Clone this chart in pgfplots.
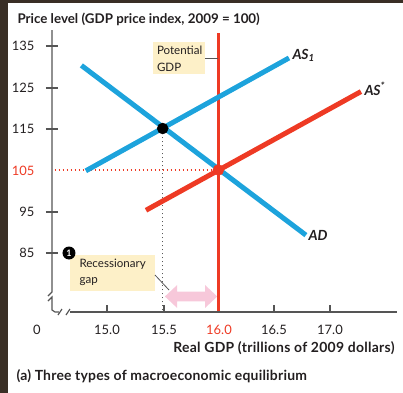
\documentclass[border=0pt]{standalone}
\usepackage{fontspec}
\setmainfont{Lato}
\usepackage{pgfplots}
\pgfplotsset{compat=1.18}
\definecolor{asblue}{RGB}{29,163,220}
\definecolor{asred}{RGB}{238,58,36}
\definecolor{beige}{RGB}{253,240,200}
\definecolor{gappink}{RGB}{247,200,218}
\definecolor{frame}{RGB}{58,47,38}
\definecolor{axgray}{RGB}{85,85,85}
\definecolor{txt}{RGB}{35,31,32}
\begin{document}
\begin{tikzpicture}[font=\fontsize{13}{15}\selectfont, color=txt]
\begin{axis}[name=ax, at={(0,0)}, anchor=south west, scale only axis,
  width=345.3bp, height=282.2bp, xmin=14.5, xmax=17.6, ymin=71, ymax=139,
  hide axis, clip=false]
% recessionary gap arrow
\addplot[fill=gappink, draw=none] coordinates {
 (15.52,74.52) (15.63,77.29) (15.63,75.72) (15.88,75.72) (15.88,77.29)
 (15.99,74.52) (15.88,71.75) (15.88,73.32) (15.63,73.32) (15.63,71.75)} -- cycle;
% potential GDP
\addplot[asred, line width=3bp] coordinates {(16,71) (16,138.06)};
% guide lines
\addplot[black!65, line width=1.4bp, dash pattern=on 1.4bp off 2.6bp] coordinates {(15.5,71.2) (15.5,115)};
\addplot[asred, line width=1.4bp, dash pattern=on 1.4bp off 2.6bp] coordinates {(14.53,105) (16,105)};
% AD
\addplot[asblue, line width=5bp] coordinates {(14.77,130.2) (16.786,89.3)};
% AS1
\addplot[asblue, line width=5bp] coordinates {(14.81,104.8) (16.634,132.0)};
% AS*
\addplot[asred, line width=5bp] coordinates {(15.35,95.3) (17.28,123.9)};
% equilibria
\addplot[only marks, mark=*, mark size=5.5bp, black] coordinates {(15.5,115)};
\addplot[only marks, mark=*, mark size=5.5bp, asred] coordinates {(16,105)};
\end{axis}
\pgfresetboundingbox
\begin{scope}[x=1bp,y=-1bp,shift={(ax.south west)},shift={(-51.3,-311.1)}]
\useasboundingbox (0,0) rectangle (403,393);
\fill[frame] (0,0) rectangle (8,393);
\fill[frame] (0,0) rectangle (403,3);
% axes with breaks
\begin{scope}[draw=axgray, line width=1.2bp]
\draw (52,30) -- (52,292) -- (48,296);
\draw (48,301) -- (52,297) -- (52,310) to[bend right=30] (55,312) -- (59,312);
\draw (58,315) -- (62,309);
\draw (66,315) -- (70,309);
\draw (70,312) -- (397,312);
\foreach \yy in {46,88,129,212,253} \draw (46,\yy) -- (58,\yy);
\foreach \xx in {107,164,274,330} \draw (\xx,305) -- (\xx,312);
\end{scope}
% tick labels
\node[anchor=east] at (38,46) {135};
\node[anchor=east] at (38,88) {125};
\node[anchor=east] at (38,129) {115};
\node[anchor=east, text=asred] at (38,171) {105};
\node[anchor=east] at (38,212) {95};
\node[anchor=east] at (38,253) {85};
\node[anchor=base] at (37,334) {0};
\node[anchor=base] at (107,334) {15.0};
\node[anchor=base] at (164,334) {15.5};
\node[anchor=base, text=asred] at (219,334) {16.0};
\node[anchor=base] at (274,334) {16.5};
\node[anchor=base] at (330,334) {17.0};
% titles
\node[anchor=base west, font=\fontsize{13.4}{15}\selectfont\bfseries] at (14,23) {Price level (GDP price index, 2009 = 100)};
\node[anchor=base east, font=\fontsize{14}{16}\selectfont\bfseries\addfontfeature{LetterSpace=2}] at (398,352) {Real GDP (trillions of 2009 dollars)};
\node[anchor=base west, font=\fontsize{14}{16}\selectfont\bfseries\addfontfeature{LetterSpace=1.5}] at (13,380) {(a) Three types of macroeconomic equilibrium};
% curve labels
\node[anchor=west, font=\fontsize{14}{16}\selectfont\bfseries\itshape] at (289,55) {AS\textsubscript{1}};
\node[anchor=west, font=\fontsize{14}{16}\selectfont\bfseries\itshape] at (361,89) {AS\raisebox{0.9ex}{\fontsize{10}{10}\selectfont*}};
\node[anchor=west, font=\fontsize{14}{16}\selectfont\bfseries\itshape] at (305,235) {AD};
% potential GDP box
\fill[beige] (153,42) rectangle (205,74);
\draw[axgray, line width=0.8bp] (205,58) -- (218,58);
\node[anchor=west, font=\fontsize{11.6}{13}\selectfont] at (153.5,50) {Potential};
\node[anchor=west, font=\fontsize{11.6}{13}\selectfont] at (153.5,67) {GDP};
% recessionary gap box
\fill[beige] (70,255) rectangle (155,291);
\draw[axgray, line width=0.8bp] (155,275) -- (169,290);
\node[anchor=west, font=\fontsize{11.6}{13}\selectfont] at (76,264) {Recessionary};
\node[anchor=west, font=\fontsize{11.6}{13}\selectfont] at (76,282) {gap};
\fill[black] (69,253) circle (6.5);
\node[text=white, font=\fontsize{9}{10}\selectfont\bfseries] at (69,253) {1};
\end{scope}
\end{tikzpicture}
\end{document}
